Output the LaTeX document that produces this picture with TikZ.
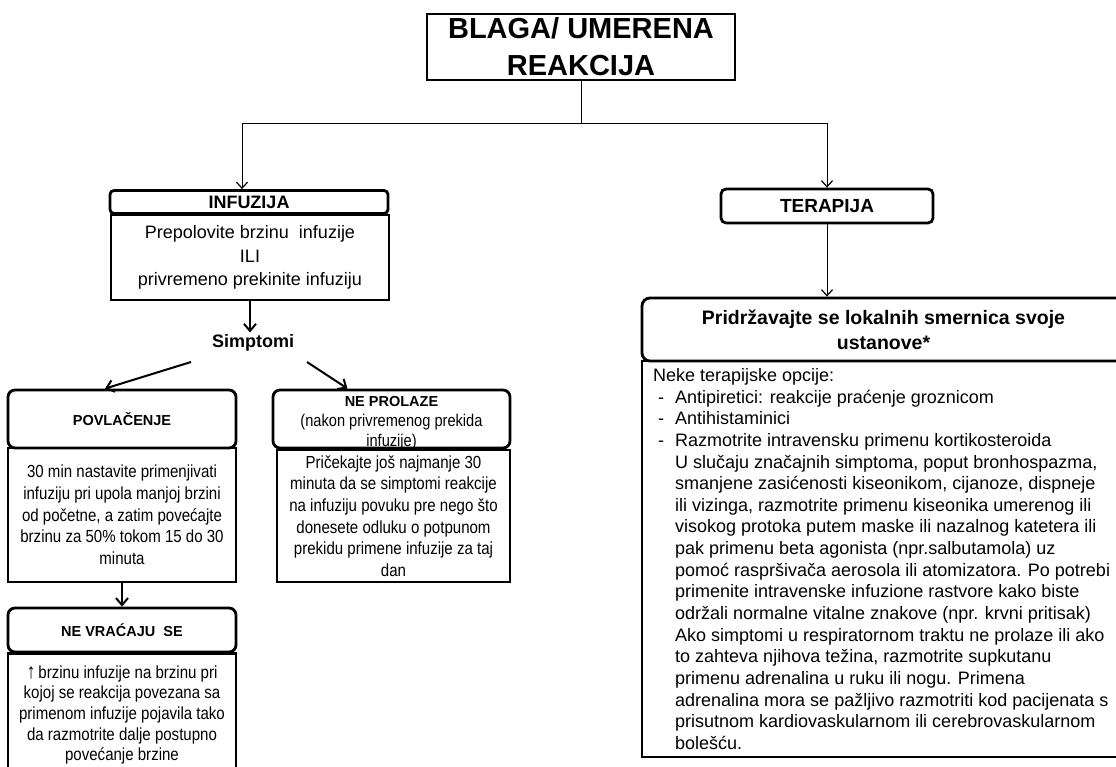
\documentclass[tikz,border=0pt]{standalone}
\usepackage{fontspec}
\setmainfont{Liberation Sans}
\newfontfamily\narrowfont[FakeStretch=0.86]{Liberation Sans}
\usetikzlibrary{arrows.meta}
\begin{document}
\begin{tikzpicture}[x=1pt,y=-1pt,
  box/.style={draw, line width=2.8pt, inner sep=0pt, align=center},
  hdr/.style={box, rounded corners=7pt},
  thinarr/.style={line width=1pt, -{Straight Barb[length=6pt,width=11pt,line width=1.2pt]}},
  thkarr/.style={line width=2pt, -{Straight Barb[length=7pt,width=12pt,line width=2pt]}},
  bigb/.style={font=\bfseries\fontsize{29}{37}\selectfont},
  hbb/.style={font=\bfseries\fontsize{18}{22}\selectfont},
  hbs/.style={font=\bfseries\fontsize{14.5}{17}\selectfont},
  bodyn/.style={font=\narrowfont\fontsize{17.5}{21.7}\selectfont},
  bodyw/.style={font=\fontsize{18}{23.3}\selectfont},
]
\useasboundingbox (0,0) rectangle (1116,767);
\fill[white] (0,0) rectangle (1116,767);
\clip (0,0) rectangle (1116,767);

% title
\node[box, line width=2.2pt, minimum width=308pt, minimum height=66pt, bigb] (title) at (581,47) {BLAGA/ UMERENA\\REAKCIJA};

% infuzija
\node[hdr, rounded corners=4pt, minimum width=278pt, minimum height=23pt, hbb] (infhead) at (249,202) {INFUZIJA};
\node[box, minimum width=278pt, minimum height=85pt, bodyw] (infbody) at (250,257.5) {Prepolovite brzinu\ \ infuzije\\ILI\\privremeno prekinite infuziju};
\node[hbb, inner sep=2pt] (simp) at (253,343) {Simptomi};

% povlacenje
\node[hdr, minimum width=228pt, minimum height=58pt, hbs] (povhead) at (122,419) {POVLAČENJE};
\node[box, minimum width=228pt, minimum height=134pt, bodyn] (povbody) at (122,515) {30 min nastavite primenjivati\\infuziju pri upola manjoj brzini\\od početne, a zatim povećajte\\brzinu za 50\% tokom 15 do 30\\minuta};

% ne prolaze
\node[hdr, minimum width=237pt, minimum height=58pt] (nphead) at (391.5,419) {};
\node[align=center, inner sep=0pt, font=\narrowfont\fontsize{17}{20}\selectfont] (nptext) at (391.5,423) {{\fontspec{Liberation Sans}\bfseries\fontsize{14.5}{20}\selectfont NE PROLAZE}\\(nakon privremenog prekida\\infuzije)};
\node[box, minimum width=233pt, minimum height=132pt, bodyn] (npbody) at (393.5,516) {Pričekajte još najmanje 30\\minuta da se simptomi reakcije\\na infuziju povuku pre nego što\\donesete odluku o potpunom\\prekidu primene infuzije za taj\\dan};

% ne vracaju se
\node[hdr, minimum width=228pt, minimum height=44pt, hbs] (nvhead) at (122,630) {NE VRAĆAJU\ \ SE};
\node[box, minimum width=228pt, minimum height=123pt, font=\narrowfont\fontsize{17.5}{20.7}\selectfont] (nvbody) at (122,715) {{\fontsize{21}{20.7}\selectfont ↑}\,brzinu infuzije na brzinu pri\\kojoj se reakcija povezana sa\\primenom infuzije pojavila tako\\da razmotrite dalje postupno\\povećanje brzine};

% terapija
\node[hdr, rounded corners=5pt, minimum width=212pt, minimum height=34pt, font=\bfseries\fontsize{19}{22}\selectfont] (terhead) at (827,206) {TERAPIJA};
\node[hdr, rounded corners=8pt, minimum width=483pt, minimum height=63pt, font=\bfseries\fontsize{19.5}{25}\selectfont] (prid) at (883.5,329.5) {Pridržavajte se lokalnih smernica svoje\\ustanove*};
\node[box, minimum width=483pt, minimum height=396pt] (pridbody) at (883.5,559) {};
\node[anchor=west, align=left, inner sep=0pt, font=\fontsize{18}{21.65}\selectfont] (pridtext) at (653,559) {Neke terapijske opcije:\\
\makebox[22pt][l]{\ -}Antipiretici: reakcije praćenje groznicom\\
\makebox[22pt][l]{\ -}Antihistaminici\\
\makebox[22pt][l]{\ -}Razmotrite intravensku primenu kortikosteroida\\
\hspace*{22pt}U slučaju značajnih simptoma, poput bronhospazma,\\
\hspace*{22pt}smanjene zasićenosti kiseonikom, cijanoze, dispneje\\
\hspace*{22pt}ili vizinga, razmotrite primenu kiseonika umerenog ili\\
\hspace*{22pt}visokog protoka putem maske ili nazalnog katetera ili\\
\hspace*{22pt}pak primenu beta agonista (npr.salbutamola) uz\\
\hspace*{22pt}pomoć raspršivača aerosola ili atomizatora. Po potrebi\\
\hspace*{22pt}primenite intravenske infuzione rastvore kako biste\\
\hspace*{22pt}održali normalne vitalne znakove (npr. krvni pritisak)\\
\hspace*{22pt}Ako simptomi u respiratornom traktu ne prolaze ili ako\\
\hspace*{22pt}to zahteva njihova težina, razmotrite supkutanu\\
\hspace*{22pt}primenu adrenalina u ruku ili nogu. Primena\\
\hspace*{22pt}adrenalina mora se pažljivo razmotriti kod pacijenata s\\
\hspace*{22pt}prisutnom kardiovaskularnom ili cerebrovaskularnom\\
\hspace*{22pt}bolešću.};

% connectors
\coordinate (j) at (581,124);
\coordinate (sl) at (191,362);
\coordinate (sr) at (307,362);
\draw[line width=1pt] (title.south) -- (j);
\draw[thinarr] (j) -| ([xshift=-7pt]infhead.north);
\draw[thinarr] (j) -| (terhead.north);
\draw[thinarr] (terhead.south) -- (terhead.south |- prid.north);
\draw[thkarr] (infbody.south) -- (infbody.south |- simp.north);
\draw[thkarr] (sl) -- ([xshift=-17pt]povhead.north);
\draw[thkarr] (sr) -- ([xshift=-44pt]nphead.north);
\draw[thkarr] (povbody.south) -- (nvhead.north);
\end{tikzpicture}
\end{document}
